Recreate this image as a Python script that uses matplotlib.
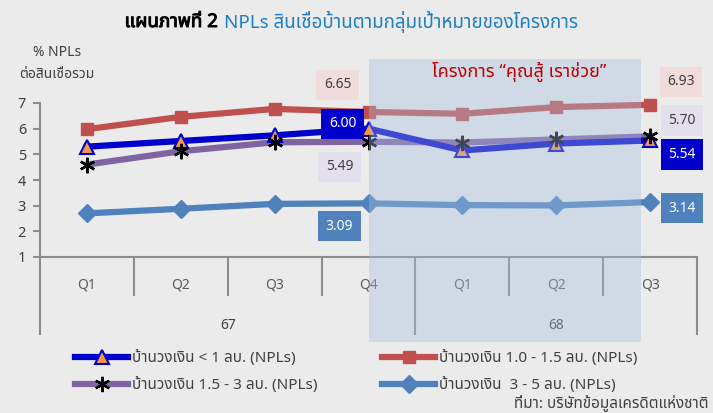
import matplotlib
matplotlib.use('Agg')
import matplotlib.pyplot as plt
from matplotlib import font_manager
from matplotlib import patheffects
from matplotlib.ft2font import FT2Font
from matplotlib.patches import Rectangle
from matplotlib.transforms import blended_transform_factory

# data
quarters = ['Q1', 'Q2', 'Q3', 'Q4', 'Q1', 'Q2', 'Q3']
years = ['67', '68']
npl_lt1 = [5.30, 5.52, 5.74, 6.00, 5.15, 5.42, 5.54]
npl_1_15 = [5.98, 6.46, 6.77, 6.65, 6.58, 6.84, 6.93]
npl_15_3 = [4.60, 5.12, 5.47, 5.49, 5.46, 5.58, 5.70]
npl_3_5 = [2.70, 2.88, 3.07, 3.09, 3.02, 3.01, 3.14]

names = ['บ้านวงเงิน < 1 ลบ. (NPLs)', 'บ้านวงเงิน 1.0 - 1.5 ลบ. (NPLs)',
         'บ้านวงเงิน 1.5 - 3 ลบ. (NPLs)', 'บ้านวงเงิน  3 - 5 ลบ. (NPLs)']


# find some installed font that can draw Thai
def find_thai_font():
    prefer = ['Noto Sans Thai', 'Noto Sans Thai UI', 'Leelawadee UI', 'Tahoma', 'Loma', 'Garuda']
    found = []
    for f in font_manager.fontManager.ttflist:
        try:
            if 0x0E01 in FT2Font(f.fname).get_charmap():
                found.append(f.name)
        except Exception:
            pass
    for p in prefer:
        if p in found:
            return p
    return found[0] if found else 'DejaVu Sans'


thai = find_thai_font()
plt.rcParams['font.family'] = [thai, 'DejaVu Sans']

bg = '#ebebeb'
grey = '#8c8c8c'
txt = '#404040'
x = list(range(len(quarters)))
star = (6, 2, 0)

fig = plt.figure(figsize=(7.13, 4.13), dpi=100, facecolor=bg)
ax = fig.add_axes([40/713, 1-257/413, 657/713, 154/413])
ax.set_facecolor(bg)

ax.plot(x, npl_1_15, color='#c0504d', lw=4.5, marker='s', ms=8, zorder=3, clip_on=False)
ax.plot(x, npl_15_3, color='#8064a2', lw=4.5, marker=star, ms=11, mec='black',
        mew=1.6, zorder=3, clip_on=False)
ax.plot(x, npl_lt1, color='#0000cc', lw=4.5, marker='^', ms=10, mfc='#f79646',
        mec='#0000cc', mew=1.5, zorder=3, clip_on=False)
ax.plot(x, npl_3_5, color='#4f81bd', lw=4.5, marker='D', ms=9, zorder=3, clip_on=False)
# redraw asterisks on top of the blue line
ax.plot(x, npl_15_3, ls='none', marker=star, ms=11, mec='black', mew=1.6, zorder=3.1,
        clip_on=False)

ax.set_xlim(-0.5, 6.5)
ax.set_ylim(1, 7)
ax.set_yticks(range(1, 8))
for s in ['top', 'right']:
    ax.spines[s].set_visible(False)
for s in ['left', 'bottom']:
    ax.spines[s].set_color(grey)
    ax.spines[s].set_linewidth(1.5)
ax.tick_params(axis='y', length=5, width=1.5, color=grey, labelsize=10.5, labelcolor=txt, pad=5)
ax.set_xticks(x, labels=quarters)
ax.set_xticks([0.5, 1.5, 2.5, 4.5, 5.5], minor=True)
ax.tick_params(axis='x', which='major', length=0, pad=15, labelsize=10, labelcolor='#595959')
ax.tick_params(axis='x', which='minor', length=28, width=1.5, color=grey)

sec = ax.secondary_xaxis('bottom')
sec.spines['bottom'].set_visible(False)
sec.set_xticks([-0.5, 3.5, 6.5], labels=['', '', ''])
sec.set_xticks([1.5, 5], labels=years, minor=True)
sec.tick_params(which='major', length=56, width=1.5, color=grey)
sec.tick_params(which='minor', length=0, pad=44, labelsize=10, labelcolor=txt)

# shaded project period, drawn over the lines
tr = blended_transform_factory(ax.transData, ax.transAxes)
ax.add_patch(Rectangle((3, -0.552), 2.9, 1.838, transform=tr, facecolor='#a6bfdf',
                       alpha=0.38, lw=0, zorder=4, clip_on=False))

# value labels at Q4/67 and Q3/68
label_style = [
    (npl_1_15, (-31, 27), (31, 23), '#f2dcdb', txt),
    (npl_lt1, (-26, 5), (32, -14), '#0000cc', 'white'),
    (npl_15_3, (-29, -25), (32, 16), '#e4dfec', txt),
    (npl_3_5, (-29, -23), (32, -6), '#4f81bd', 'white'),
]
for vals, off3, off6, fc, tc in label_style:
    for i, off in [(3, off3), (6, off6)]:
        ax.annotate(f'{vals[i]:.2f}', (i, vals[i]), xytext=off, textcoords='offset pixels',
                    ha='center', va='center', fontsize=10, color=tc, zorder=5,
                    annotation_clip=False,
                    bbox=dict(boxstyle='square,pad=0.55', fc=fc, ec='none'))

fig.text(519/713, 1-72/413, 'โครงการ “คุณสู้ เราช่วย”', color='#c00000', fontsize=13,
         ha='center', va='center', zorder=6)

# title in two colours
fig.text(218/713, 1-22/413, 'แผนภาพที่ 2', ha='right', va='center', fontsize=13.5,
         fontweight='bold', color='black',
         path_effects=[patheffects.withStroke(linewidth=0.7, foreground='black')])
fig.text(224/713, 1-22/413, 'NPLs สินเชื่อบ้านตามกลุ่มเป้าหมายของโครงการ', ha='left',
         va='center', fontsize=13.5, color='#1f7fc4')

fig.text(57/713, 1-52/413, '% NPLs', ha='center', va='center', fontsize=10, color=txt)
fig.text(57/713, 1-75/413, 'ต่อสินเชื่อรวม', ha='center', va='center', fontsize=10, color=txt)

# legend, filled row by row
h_lt1, = ax.plot([], [], color='#0000cc', lw=4.5, marker='^', ms=10, mfc='#f79646',
                 mec='#0000cc', mew=1.5)
h_1_15, = ax.plot([], [], color='#c0504d', lw=4.5, marker='s', ms=8)
h_15_3, = ax.plot([], [], color='#8064a2', lw=4.5, marker=star, ms=11, mec='black', mew=1.6)
h_3_5, = ax.plot([], [], color='#4f81bd', lw=4.5, marker='D', ms=9)
fig.legend([h_lt1, h_15_3, h_1_15, h_3_5], [names[0], names[2], names[1], names[3]],
           ncol=2, loc='upper left', bbox_to_anchor=(75/713, 1-350/413), frameon=False,
           fontsize=11, handlelength=3.5, handletextpad=0.25, columnspacing=4.2,
           labelspacing=0.75, borderpad=0, borderaxespad=0, labelcolor=txt)

fig.text(708/713, 1-403/413, 'ที่มา: บริษัทข้อมูลเครดิตแห่งชาติ', ha='right', va='center',
         fontsize=11, color=txt)

fig.savefig('out.png', dpi=100, facecolor=bg)
